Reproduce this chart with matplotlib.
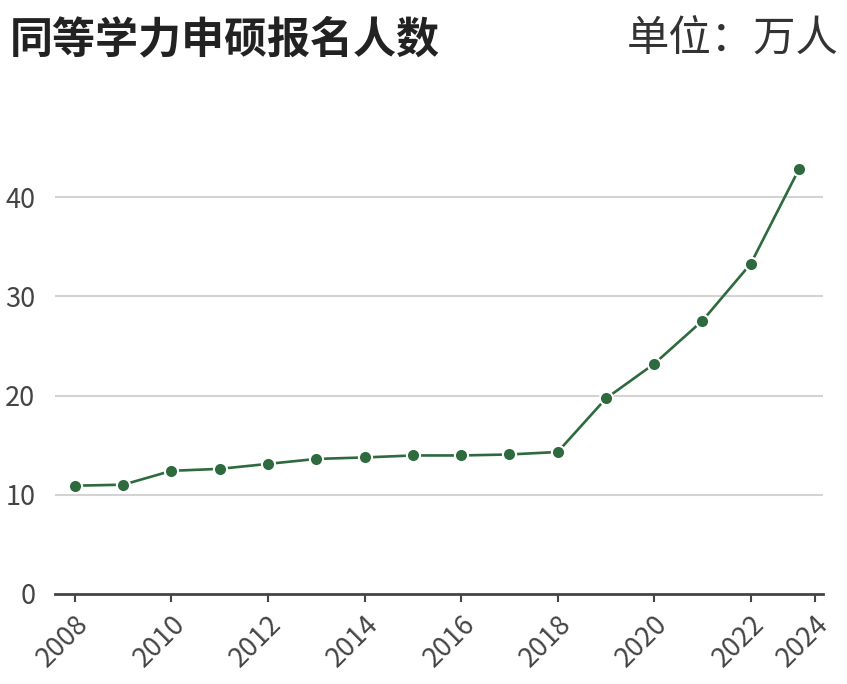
import matplotlib
matplotlib.use('Agg')
import matplotlib.pyplot as plt

plt.rcParams['font.family'] = ['Noto Sans CJK SC', 'DejaVu Sans']

years = [2008, 2009, 2010, 2011, 2012, 2013, 2014, 2015,
         2016, 2017, 2018, 2019, 2020, 2021, 2022, 2023]
applicants = [10.9, 11.0, 12.4, 12.6, 13.1, 13.6, 13.75, 13.95,
              13.95, 14.05, 14.3, 19.7, 23.2, 27.55, 33.3, 42.85]

x_ticks = [2008, 2010, 2012, 2014, 2016, 2018, 2020, 2022, 2023.33]
x_labels = ['2008', '2010', '2012', '2014', '2016', '2018', '2020', '2022', '2024']
y_ticks = [0, 10, 20, 30, 40]

title = '同等学力申硕报名人数'
unit = '单位：万人'

green = '#2d6a3e'
axis_grey = '#444444'

fig = plt.figure(figsize=(8.47, 6.84), dpi=100)
ax = fig.add_axes([0.0649, 0.132, 0.9064, 0.652])

ax.plot(years, applicants, color=green, linewidth=1.9, zorder=3,
        marker='o', markersize=9.5, markerfacecolor=green,
        markeredgecolor='white', markeredgewidth=1.5)

ax.set_xlim(2007.586, 2023.49)
ax.set_ylim(0, 45)

ax.set_yticks(y_ticks)
ax.set_yticklabels([str(v) for v in y_ticks])
ax.set_xticks(x_ticks)
ax.set_xticklabels(x_labels, rotation=45, ha='right', rotation_mode='anchor')

for v in y_ticks[1:]:
    ax.axhline(v, color='#d3d3d3', linewidth=1.5, zorder=1)

for s in ['top', 'right', 'left']:
    ax.spines[s].set_visible(False)
ax.spines['bottom'].set_color(axis_grey)
ax.spines['bottom'].set_linewidth(2)

ax.tick_params(axis='y', length=0, pad=14, labelsize=19.5, labelcolor=axis_grey)
ax.tick_params(axis='x', length=6, width=1.5, color=axis_grey, pad=6,
               labelsize=19.5, labelcolor=axis_grey)

fig.text(0.012, 0.943, title, fontsize=31, fontweight='bold', color='#222222',
         ha='left', va='center')
fig.text(0.99, 0.943, unit, fontsize=30.5, color='#333333',
         ha='right', va='center')

fig.savefig('out.png', dpi=100, facecolor='white')
